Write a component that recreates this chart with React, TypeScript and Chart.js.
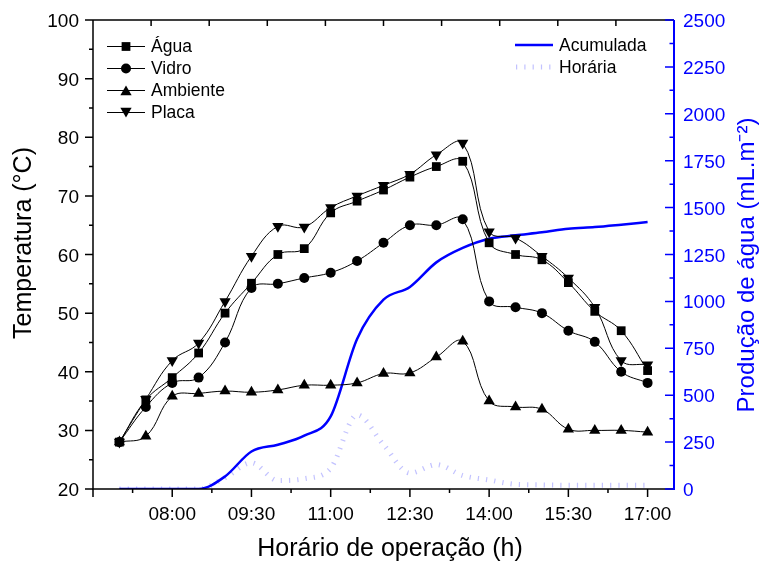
import React, { useEffect, useRef } from 'react';
import { Chart, registerables } from 'chart.js';

Chart.register(...registerables);

// ---------- data ----------
const times = [
  '07:00', '07:30', '08:00', '08:30', '09:00', '09:30', '10:00', '10:30', '11:00', '11:30', '12:00',
  '12:30', '13:00', '13:30', '14:00', '14:30', '15:00', '15:30', '16:00', '16:30', '17:00',
];
const agua = [28, 35.2, 39, 43.2, 50, 55.1, 60, 61, 67.1, 69.1, 71, 73.2, 75, 75.9, 62, 60, 59.1, 55.2, 50.3, 47, 40.2];
const vidro = [28, 34, 38.1, 39, 45, 54.3, 55, 56, 56.9, 58.9, 62, 65, 65, 66, 52, 51, 50, 47, 45.1, 40, 38.1];
const ambiente = [28, 29, 35.8, 36.3, 36.7, 36.5, 36.9, 37.7, 37.7, 38.1, 39.7, 39.8, 42.5, 45.2, 35, 34, 33.6, 30.2, 30, 30, 29.7];
const placa = [28, 35.3, 41.9, 44.9, 52, 59.7, 64.8, 64.7, 68, 70, 71.8, 73.7, 77, 79, 63.9, 62.8, 59.7, 56, 51, 41.9, 41.2];
const acumulada = [0, 0, 0, 0, 67, 200, 236, 284, 387, 800, 1009, 1077, 1208, 1285, 1334, 1352, 1368, 1387, 1396, 1409, 1423];
const horaria = [0, 0, 0, 0, 60, 140, 45, 55, 110, 395, 236, 85, 130, 72, 48, 25, 22, 20, 20, 20, 20];

const xTickLabels = ['08:00', '09:30', '11:00', '12:30', '14:00', '15:30', '17:00'];
const xRange = ['06:30', '17:30'];
const yLeftTicks = [20, 30, 40, 50, 60, 70, 80, 90, 100];
const yRightTicks = [0, 250, 500, 750, 1000, 1250, 1500, 1750, 2000, 2250, 2500];

const xTitle = 'Horário de operação (h)';
const yLeftTitle = 'Temperatura (°C)';
const yRightTitle = 'Produção de água (mL.m⁻²)';

// ---------- helpers ----------
const toMin = (s: string) => {
  const [h, m] = s.split(':').map(Number);
  return h * 60 + m;
};
const pts = (vals: number[]) => vals.map((v, i) => ({ x: toMin(times[i]), y: v }));

const FONT = '"Liberation Sans", Arial, sans-serif';
const BLUE = '#0000ff';
const LAV = 'rgba(120,120,255,0.45)';

function marker(ctx: CanvasRenderingContext2D, kind: string, x: number, y: number, r: number) {
  ctx.beginPath();
  if (kind === 'rect') {
    const s = Math.SQRT1_2 * r;
    ctx.rect(x - s, y - s, 2 * s, 2 * s);
  } else if (kind === 'circle') {
    ctx.arc(x, y, r, 0, Math.PI * 2);
  } else {
    const dir = kind === 'down' ? -1 : 1;
    for (let k = 0; k < 3; k++) {
      const ang = (k * 2 * Math.PI) / 3;
      const px = x + Math.sin(ang) * r;
      const py = y - dir * Math.cos(ang) * r;
      if (k === 0) ctx.moveTo(px, py);
      else ctx.lineTo(px, py);
    }
    ctx.closePath();
  }
  ctx.fill();
}

const framePlugin = {
  id: 'frame',
  afterDraw(chart: any) {
    const { ctx, chartArea: a, scales } = chart;
    const sx = scales.x;
    const sy = scales.y;
    const sy1 = scales.y1;
    ctx.save();

    // frame lines
    ctx.strokeStyle = '#000';
    ctx.lineWidth = 1.5;
    ctx.beginPath();
    ctx.moveTo(a.left, a.top);
    ctx.lineTo(a.left, a.bottom);
    ctx.lineTo(a.right, a.bottom);
    ctx.moveTo(a.left, a.top);
    ctx.lineTo(a.right, a.top);
    ctx.stroke();

    // bottom ticks (outward)
    ctx.lineWidth = 1.5;
    ctx.beginPath();
    const x0 = toMin(xRange[0]);
    const x1 = toMin(xRange[1]);
    for (let v = x0; v <= x1; v += 90) {
      const px = sx.getPixelForValue(v);
      ctx.moveTo(px, a.bottom);
      ctx.lineTo(px, a.bottom + 8);
    }
    for (let v = x0 + 45; v <= x1; v += 90) {
      const px = sx.getPixelForValue(v);
      ctx.moveTo(px, a.bottom);
      ctx.lineTo(px, a.bottom + 4);
    }
    // left ticks (outward)
    for (let v = 20; v <= 100; v += 10) {
      const py = sy.getPixelForValue(v);
      ctx.moveTo(a.left, py);
      ctx.lineTo(a.left - 8, py);
    }
    for (let v = 25; v < 100; v += 10) {
      const py = sy.getPixelForValue(v);
      ctx.moveTo(a.left, py);
      ctx.lineTo(a.left - 4, py);
    }
    // top ticks (inward)
    for (let i = 1; i < 10; i++) {
      const px = a.left + ((a.right - a.left) * i) / 10;
      ctx.moveTo(px, a.top);
      ctx.lineTo(px, a.top + 6);
    }
    ctx.stroke();

    // right axis (blue)
    ctx.strokeStyle = BLUE;
    ctx.lineWidth = 2;
    ctx.beginPath();
    ctx.moveTo(a.right, a.top);
    ctx.lineTo(a.right, a.bottom + 1);
    ctx.stroke();
    ctx.lineWidth = 1.5;
    ctx.beginPath();
    for (let v = 0; v <= 2500; v += 250) {
      const py = sy1.getPixelForValue(v);
      ctx.moveTo(a.right, py);
      ctx.lineTo(a.right - 9, py);
    }
    for (let v = 125; v < 2500; v += 250) {
      const py = sy1.getPixelForValue(v);
      ctx.moveTo(a.right, py);
      ctx.lineTo(a.right - 4.5, py);
    }
    ctx.stroke();

    // tick labels
    ctx.font = `19px ${FONT}`;
    ctx.fillStyle = '#000';
    ctx.textBaseline = 'alphabetic';
    ctx.textAlign = 'center';
    xTickLabels.forEach((t) => {
      ctx.fillText(t, sx.getPixelForValue(toMin(t)), a.bottom + 31);
    });
    ctx.textAlign = 'right';
    yLeftTicks.forEach((v) => {
      ctx.fillText(String(v), a.left - 14, sy.getPixelForValue(v) + 7);
    });
    ctx.fillStyle = BLUE;
    ctx.textAlign = 'left';
    yRightTicks.forEach((v) => {
      ctx.fillText(String(v), a.right + 9, sy1.getPixelForValue(v) + 7);
    });

    // titles
    ctx.font = `25px ${FONT}`;
    ctx.fillStyle = '#000';
    ctx.textAlign = 'center';
    ctx.fillText(xTitle, 390, 556);
    ctx.save();
    ctx.translate(31, 243);
    ctx.rotate(-Math.PI / 2);
    ctx.fillText(yLeftTitle, 0, 0);
    ctx.restore();
    ctx.save();
    ctx.font = `24px ${FONT}`;
    ctx.fillStyle = BLUE;
    ctx.translate(754, 265);
    ctx.rotate(-Math.PI / 2);
    ctx.fillText(yRightTitle, 0, 0);
    ctx.restore();

    // left legend
    const leg = [
      { label: 'Água', kind: 'rect', r: 6.2 },
      { label: 'Vidro', kind: 'circle', r: 5 },
      { label: 'Ambiente', kind: 'up', r: 6.5 },
      { label: 'Placa', kind: 'down', r: 6.5 },
    ];
    ctx.font = `17.5px ${FONT}`;
    ctx.textAlign = 'left';
    ctx.textBaseline = 'middle';
    leg.forEach((e, i) => {
      const ly = 46.5 + i * 22;
      ctx.strokeStyle = '#000';
      ctx.lineWidth = 1;
      ctx.beginPath();
      ctx.moveTo(107, ly);
      ctx.lineTo(145, ly);
      ctx.stroke();
      ctx.fillStyle = '#000';
      marker(ctx, e.kind, 126, e.kind === 'up' ? ly + 1.5 : e.kind === 'down' ? ly - 1.5 : ly, e.r);
      ctx.fillText(e.label, 151, ly + 1);
    });

    // right legend
    ctx.strokeStyle = BLUE;
    ctx.lineWidth = 2.5;
    ctx.beginPath();
    ctx.moveTo(515, 45);
    ctx.lineTo(553, 45);
    ctx.stroke();
    ctx.strokeStyle = LAV;
    ctx.lineWidth = 5;
    ctx.lineCap = 'butt';
    ctx.setLineDash([1.2, 7.1]);
    ctx.beginPath();
    ctx.moveTo(516, 67);
    ctx.lineTo(553, 67);
    ctx.stroke();
    ctx.setLineDash([]);
    ctx.fillStyle = '#000';
    ctx.fillText('Acumulada', 559, 46);
    ctx.fillText('Horária', 559, 68);

    ctx.restore();
  },
};

export default function App() {
  const ref = useRef<HTMLCanvasElement | null>(null);

  useEffect(() => {
    if (!ref.current) return;
    const black = (label: string, vals: number[], style: string, r: number, rot = 0) => ({
      label,
      data: pts(vals),
      yAxisID: 'y',
      borderColor: '#000',
      backgroundColor: '#000',
      borderWidth: 1,
      pointStyle: style,
      pointRotation: rot,
      pointRadius: r,
      pointBorderWidth: 0,
      pointBackgroundColor: '#000',
      tension: 0.4,
    });
    const chart = new Chart(ref.current, {
      type: 'line',
      data: {
        datasets: [
          black('Água', agua, 'rect', 6.2),
          black('Vidro', vidro, 'circle', 5),
          black('Ambiente', ambiente, 'triangle', 6.5),
          black('Placa', placa, 'triangle', 6.5, 180),
          {
            label: 'Acumulada',
            data: pts(acumulada),
            yAxisID: 'y1',
            borderColor: BLUE,
            borderWidth: 2.5,
            pointRadius: 0,
            cubicInterpolationMode: 'monotone',
          },
          {
            label: 'Horária',
            data: pts(horaria),
            yAxisID: 'y1',
            borderColor: LAV,
            borderWidth: 5,
            borderDash: [1.2, 7.1],
            borderCapStyle: 'butt',
            pointRadius: 0,
            cubicInterpolationMode: 'monotone',
          },
        ],
      },
      options: {
        responsive: false,
        animation: false,
        layout: { padding: { left: 93, right: 91, top: 20, bottom: 74 } },
        plugins: { legend: { display: false }, tooltip: { enabled: false } },
        scales: {
          x: { type: 'linear', min: toMin(xRange[0]), max: toMin(xRange[1]), display: false },
          y: { type: 'linear', min: 20, max: 100, display: false },
          y1: { type: 'linear', position: 'right', min: 0, max: 2500, display: false },
        },
      },
      plugins: [framePlugin],
    } as any);
    return () => chart.destroy();
  }, []);

  return (
    <div style={{ position: 'fixed', left: 0, top: 0, width: 765, height: 563, background: '#fff' }}>
      <canvas ref={ref} width={765} height={563} style={{ display: 'block' }} />
    </div>
  );
}
